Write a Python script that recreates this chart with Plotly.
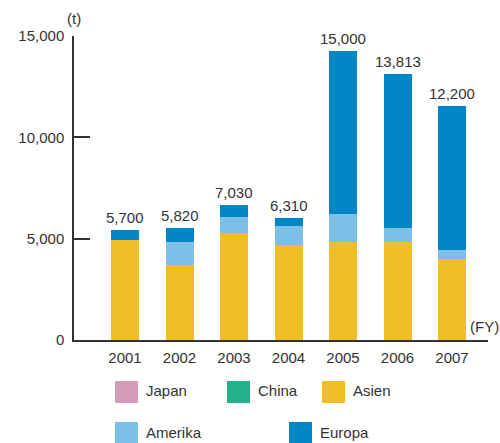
import plotly.graph_objects as go

years = ["2001", "2002", "2003", "2004", "2005", "2006", "2007"]
japan = [0, 0, 0, 0, 0, 0, 0]
china = [0, 0, 0, 0, 0, 0, 0]
asien = [4950, 3710, 5280, 4700, 4850, 4850, 4010]
amerika = [0, 1140, 810, 940, 1350, 695, 445]
europa = [500, 695, 590, 400, 8060, 7575, 7075]
total_labels = ["5,700", "5,820", "7,030", "6,310", "15,000", "13,813", "12,200"]

colors = {
    "Japan": "#D49AB8",
    "China": "#24B08A",
    "Asien": "#F0BE26",
    "Amerika": "#7CC0E8",
    "Europa": "#0085C7",
}
FONT = "Liberation Sans, Arial, sans-serif"
TXT = "#333333"

fig = go.Figure()
xs = list(range(len(years)))
for name, vals in [("Japan", japan), ("China", china), ("Asien", asien),
                   ("Amerika", amerika), ("Europa", europa)]:
    fig.add_trace(go.Bar(x=xs, y=vals, name=name, marker_color=colors[name],
                         marker_line_width=0, width=0.514, showlegend=False))

tops = [a + b + c + d + e for a, b, c, d, e in zip(japan, china, asien, amerika, europa)]
for i, (t, lab) in enumerate(zip(tops, total_labels)):
    fig.add_annotation(x=i, y=t, text=lab, showarrow=False, yanchor="bottom",
                       yshift=2, font=dict(size=15, color=TXT, family=FONT))

# pixel -> paper helpers
L, R, T, B = 74, 488, 36, 340
def px(x):
    return (x - L) / (R - L)
def py(y):
    return (B - y) / (B - T)

legend_items = [("Japan", 115, 381), ("China", 227, 381), ("Asien", 322, 381),
                ("Amerika", 115, 422), ("Europa", 289, 422)]
for name, x0, y0 in legend_items:
    fig.add_shape(type="rect", xref="paper", yref="paper",
                  x0=px(x0), x1=px(x0 + 23), y0=py(y0), y1=py(y0 + 22),
                  fillcolor=colors[name], line_width=0)
    fig.add_annotation(xref="paper", yref="paper", x=px(x0 + 29), y=py(y0 + 10),
                       text=name, showarrow=False, xanchor="left", yanchor="middle",
                       font=dict(size=15, color=TXT, family=FONT))

fig.add_annotation(xref="paper", yref="paper", x=px(74), y=py(19), text="(t)",
                   showarrow=False, xanchor="center", yanchor="middle",
                   font=dict(size=15, color=TXT, family=FONT))
fig.add_annotation(xref="paper", yref="paper", x=px(501), y=py(326), text="(FY)",
                   showarrow=False, xanchor="right", yanchor="middle",
                   font=dict(size=15, color=TXT, family=FONT))

fig.update_layout(
    width=500, height=443, barmode="stack",
    margin=dict(l=L, r=500 - R, t=T, b=443 - B),
    plot_bgcolor="white", paper_bgcolor="white",
    font=dict(family=FONT, size=15, color=TXT),
    bargap=0,
)
fig.update_xaxes(range=[-0.936, 6.66], tickvals=xs, ticktext=years,
                 showgrid=False, zeroline=False, showline=True,
                 linecolor="#333333", linewidth=1.5, ticks="", ticklabelstandoff=3,
                 tickfont=dict(size=15, color=TXT))
fig.update_yaxes(range=[0, 15000], tickvals=[0, 5000, 10000, 15000], tickformat=",d",
                 showgrid=False, zeroline=False, showline=True,
                 linecolor="#333333", linewidth=1.5, ticks="inside", ticklen=16,
                 tickcolor="#333333", tickwidth=1.5, ticklabelstandoff=5,
                 tickfont=dict(size=15, color=TXT))

fig.write_html("out.html")
